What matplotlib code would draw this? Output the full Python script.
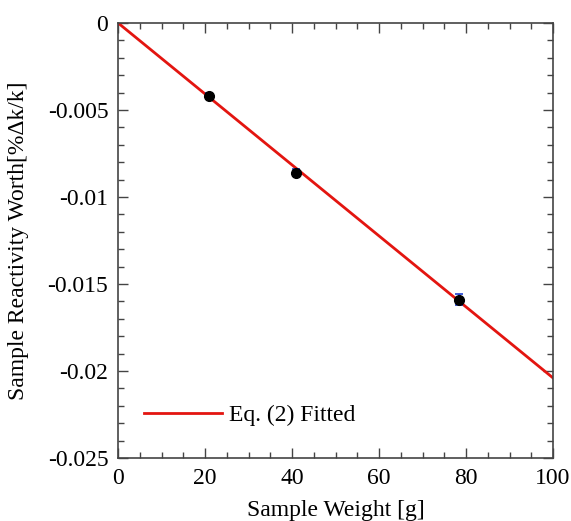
import matplotlib
matplotlib.use("Agg")
import matplotlib.pyplot as plt
import numpy as np
from matplotlib.ticker import MultipleLocator

plt.rcParams['font.family'] = ['Liberation Serif', 'DejaVu Serif']

weights = [21.0, 41.0, 78.5]
worth = [-0.0042, -0.0086, -0.0159]
worth_err = [0.0002, 0.0002, 0.0003]
fit_x = [0, 100]
fit_slope = -0.000204
xticks = [0, 20, 40, 60, 80, 100]
xticklabels = ['0', '20', '40', '60', '80', '100']
yticks = [0, -0.005, -0.01, -0.015, -0.02, -0.025]
yticklabels = ['0', '-0.005', '-0.01', '-0.015', '-0.02', '-0.025']

fig = plt.figure(figsize=(5.71, 5.21), dpi=100)
ax = fig.add_axes([0.2067, 0.121, 0.7618, 0.835])

fx = np.array(fit_x, dtype=float)
ax.plot(fx, fit_slope * fx, color='#e31510', lw=2, label='Eq. (2) Fitted', zorder=2)
ax.errorbar(weights, worth, yerr=worth_err, fmt='o', color='black', ms=7,
            ecolor='#1f3fd0', elinewidth=1.2, capsize=3, capthick=1.2, zorder=3)

ax.set_xlim(0, 100)
ax.set_ylim(-0.025, 0)
ax.set_xticks(xticks)
ax.set_xticklabels(xticklabels)
ax.set_yticks(yticks)
ax.set_yticklabels(yticklabels)
ax.xaxis.set_minor_locator(MultipleLocator(5))
ax.yaxis.set_minor_locator(MultipleLocator(0.001))

ax.tick_params(which='both', direction='in', top=True, right=True, color='#444444',
               labelsize=17, pad=7)
ax.tick_params(which='major', length=7, width=1)
ax.tick_params(which='minor', length=4, width=1)
for s in ax.spines.values():
    s.set_color('#444444')
    s.set_linewidth(1.2)

ax.set_xlabel('Sample Weight [g]', fontsize=17, labelpad=8)
ax.set_ylabel('Sample Reactivity Worth[%\u0394k/k]', fontsize=17, labelpad=13)

ax.legend(loc='lower left', bbox_to_anchor=(0.01, 0.025), frameon=False, fontsize=17,
          handlelength=3.3, handletextpad=0.3)

fig.savefig('out.png', dpi=100)
